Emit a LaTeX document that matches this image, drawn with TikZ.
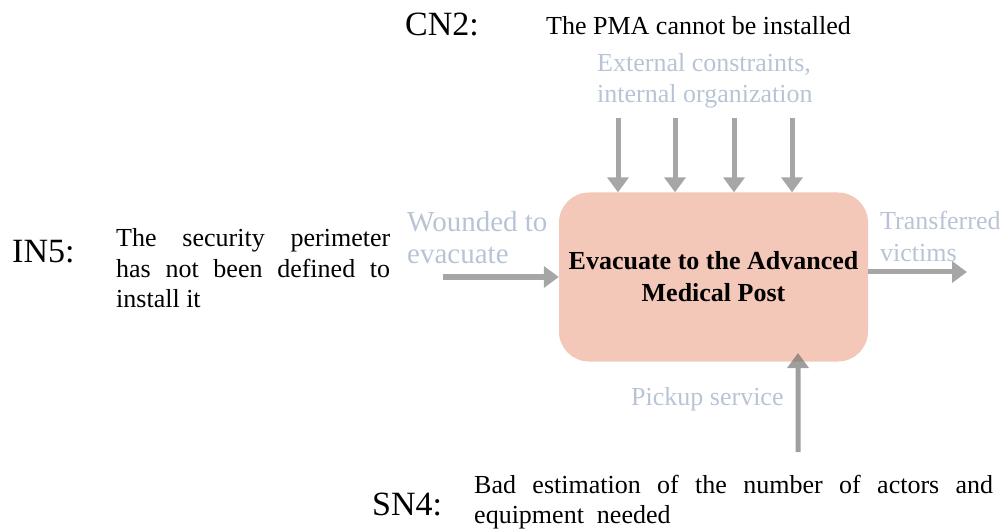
\documentclass[tikz,border=0pt]{standalone}
\usepackage{fontspec}
\setmainfont{Liberation Serif}
\usetikzlibrary{arrows.meta}
\definecolor{boxfill}{HTML}{F3C8B8}
\definecolor{lbl}{HTML}{B8C4D6}
\definecolor{arrgray}{HTML}{A6A6A6}
\definecolor{arrdark}{HTML}{6B6B6B}
\tikzset{
  code/.style={anchor=base west, inner sep=0pt, font=\fontsize{34}{40}\selectfont},
  body/.style={anchor=base west, inner sep=0pt, font=\fontsize{26}{31}\selectfont},
  glabel/.style={anchor=base west, inner sep=0pt, text=lbl, font=\fontsize{26}{31}\selectfont, align=left},
  flow/.style={draw=arrgray, line width=5pt,
    -{Triangle[width=21pt,length=15pt,fill=arrgray]}},
  activity/.style={draw=none, fill=boxfill, rounded corners=30pt, minimum width=309pt,
    minimum height=169pt, inner sep=0pt, align=center,
    font=\fontsize{26}{32}\selectfont\bfseries}
}
\begin{document}
\begin{tikzpicture}[x=1pt,y=-1pt]
\useasboundingbox (0,0) rectangle (1006,529);
% main box
\node[activity] (box) at (713.5,277) {Evacuate to the Advanced\\Medical Post};
% top
\node[code] (cn2) at (405,36) {CN2:};
\node[body] (cn2t) at (546,35) {The PMA cannot be installed};
\node[glabel] (ctrl) at (597,72) {\parbox[t]{260pt}{\fontsize{26}{31}\selectfont External constraints,\\internal organization}};
\foreach \x [count=\i] in {618,675,734,792}{
  \coordinate (c\i) at (\x,118);
  \draw[flow] (c\i) -- (c\i |- box.north);
}
% input
\node[glabel] (inl) at (407,232) {\parbox[t]{160pt}{\fontsize{29}{32}\selectfont Wounded to\\evacuate}};
\coordinate (ins) at (443,277);
\draw[flow] (ins) -- (box.west |- ins);
% output
\node[glabel] (outl) at (880,230) {\parbox[t]{160pt}{\fontsize{26}{32}\selectfont Transferred\\victims}};
\coordinate (oute) at (967,272);
\draw[flow] (box.east |- oute) -- (oute);
% mechanism
\coordinate (ms) at (798,452);
\coordinate (me) at (798,353);
\begin{scope}[transparency group, opacity=0.65]
\draw[flow, draw=arrdark, -{Triangle[width=21pt,length=15pt,fill=arrdark]}] (ms) -- (me);
\end{scope}
\node[glabel] (mlab) at (631,405) {Pickup service};
% IN5
\node[code] (in5) at (12,262) {IN5:};
\node[body] (in5t) at (116,247) {\parbox[t]{274pt}{\fontsize{26}{30.5}\selectfont
  \makebox[274pt][l]{The\hfill security\hfill perimeter}\\
  \makebox[274pt][l]{has\hfill not\hfill been\hfill defined\hfill to}\\
  install it}};
% SN4
\node[code] (sn4) at (372,515) {SN4:};
\node[body] (sn4t) at (474,493) {\parbox[t]{519pt}{\fontsize{26}{30}\selectfont
  \makebox[519pt][l]{Bad\hfill estimation\hfill of\hfill the\hfill number\hfill of\hfill actors\hfill and}\\
  equipment\ \ needed}};
\end{tikzpicture}
\end{document}
